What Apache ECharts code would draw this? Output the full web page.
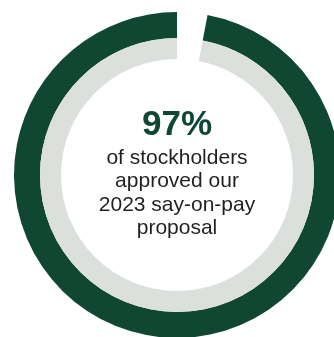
<!DOCTYPE html>
<html>
<head>
<meta charset="utf-8">
<script src="https://cdn.jsdelivr.net/npm/echarts@6/dist/echarts.min.js"></script>
<style>
  html, body { margin: 0; padding: 0; background: #fff; }
  #main { width: 334px; height: 337px; }
</style>
</head>
<body>
<div id="main"></div>
<script>
// share of votes in favour vs. the rest (the gap)
var approved = 97;
var notApproved = 3;
var headline = '97%';
var captionLines = ['of stockholders', 'approved our', '2023 say-on-pay', 'proposal'];

var dark = '#0f4733';
var light = '#dce0dd';

var myChart = echarts.init(document.getElementById('main'));

function ring(radius, color) {
    return {
        type: 'pie',
        center: [177, 175],
        radius: radius,
        startAngle: 90,
        clockwise: true,
        silent: true,
        label: { show: false },
        labelLine: { show: false },
        emphasis: { disabled: true },
        data: [
            { value: notApproved, itemStyle: { color: 'rgba(0,0,0,0)' } },
            { value: approved, itemStyle: { color: color } }
        ]
    };
}

var texts = [{
    type: 'text',
    x: 177,
    y: 125,
    style: {
        text: headline,
        fill: dark,
        font: 'bold 35px "Liberation Sans", Arial, sans-serif',
        textAlign: 'center',
        textVerticalAlign: 'middle'
    }
}];
captionLines.forEach(function (line, i) {
    texts.push({
        type: 'text',
        x: 177,
        y: 158 + i * 23.5,
        style: {
            text: line,
            fill: '#231f20',
            font: '21px "Liberation Sans", Arial, sans-serif',
            textAlign: 'center',
            textVerticalAlign: 'middle'
        }
    });
});

myChart.setOption({
    animation: false,
    series: [
        ring([137, 163], dark),
        ring([116, 137], light)
    ],
    graphic: texts
});
</script>
</body>
</html>
